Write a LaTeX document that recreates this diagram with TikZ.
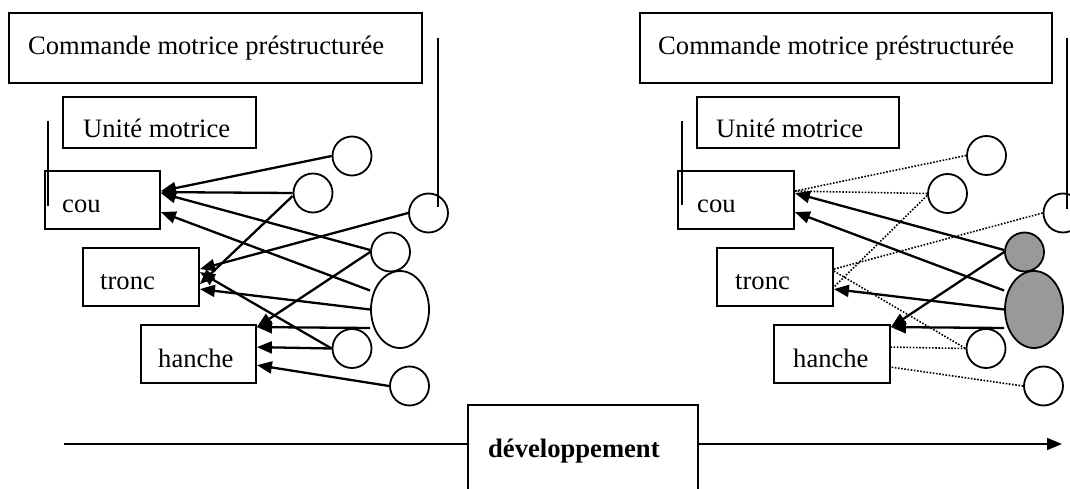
\documentclass[tikz,border=0pt]{standalone}
\usepackage{fontspec}
\setmainfont{Liberation Serif}
\usetikzlibrary{arrows.meta,shapes.geometric,calc}
\definecolor{fillgray}{RGB}{153,153,153}
\begin{document}
\begin{tikzpicture}[x=1pt,y=-1pt,
  box/.style={draw,line width=1.8pt,inner sep=0pt,rectangle},
  lbl/.style={inner sep=0pt,anchor=base west,font=\fontsize{26.6}{30}\selectfont},
  circ/.style={draw,circle,line width=1.8pt,minimum size=39pt,inner sep=0pt},
  ell/.style={draw,ellipse,line width=1.8pt,minimum width=58pt,minimum height=77pt,inner sep=0pt},
  shaded/.style={fill=fillgray},
  arr/.style={line width=2.3pt,-{Triangle[length=15pt,width=12pt]}},
  dotl/.style={line width=1.6pt,dash pattern=on 1.6pt off 1.6pt},
  vline/.style={line width=1.8pt}]
\useasboundingbox (0,0) rectangle (1070,489);
\fill[white] (0,0) rectangle (1070,489);

% ---------------- left panel ----------------
\node[box,minimum width=413pt,minimum height=70pt] (cmdL) at (215.5,48) {};
\node[lbl] (cmdLt) at (28,55) {Commande motrice préstructurée};
\node[box,minimum width=193pt,minimum height=51pt] (uniL) at (159.5,122.5) {};
\node[lbl] (uniLt) at (83,138) {Unité motrice};
\node[box,minimum width=115pt,minimum height=58pt] (couL) at (102.5,200) {};
\node[lbl] (couLt) at (62,212) {cou};
\node[box,minimum width=116pt,minimum height=58pt] (troL) at (141,277) {};
\node[lbl] (troLt) at (100,289) {tronc};
\node[box,minimum width=115pt,minimum height=58pt] (hanL) at (198.5,354) {};
\node[lbl] (hanLt) at (158,367) {hanche};

\coordinate (vLa1) at (48,121);
\coordinate (vLa2) at (48,206);
\coordinate (vLb1) at (438,38);
\coordinate (vLb2) at (438,207);
\draw[vline] (vLa1) -- (vLa2);
\draw[vline] (vLb1) -- (vLb2);

\node[circ] (A1L) at (352,156) {};
\node[circ] (A2L) at (313,193) {};
\node[circ] (A3L) at (428.5,213) {};
\node[circ] (BL) at (390.5,252) {};
\node[ell] (EL) at (400,309.5) {};
\node[circ] (CL) at (352,348.5) {};
\node[circ] (DL) at (409.5,386) {};

\draw[arr] (A1L.west) -- ($(couL.north east)+(0,21)$);
\draw[arr] (A2L.west) -- ($(couL.north east)+(0,22)$);
\draw[arr] ($(BL.west)+(0,-2)$) -- ($(couL.north east)+(0,23)$);
\draw[arr] ($(EL.west)+(0,-19)$) -- ($(couL.north east)+(0,42)$);
\draw[arr] ($(A2L.west)+(0,3)$) -- ($(troL.north east)+(0,37)$);
\draw[arr] (A3L.west) -- ($(troL.north east)+(0,22)$);
\draw[arr] (EL.west) -- ($(troL.north east)+(0,42)$);
\draw[arr] (CL.west) -- ($(troL.north east)+(0,25)$);
\draw[arr] (BL.west) -- ($(hanL.north east)+(0,3)$);
\draw[arr] ($(EL.west)+(0,18.5)$) -- ($(hanL.north east)+(0,3)$);
\draw[arr] (CL.west) -- ($(hanL.north east)+(0,23)$);
\draw[arr] (DL.west) -- ($(hanL.north east)+(0,41)$);

% ---------------- right panel ----------------
\node[box,minimum width=412pt,minimum height=70pt] (cmdR) at (846,48) {};
\node[lbl] (cmdRt) at (658,55) {Commande motrice préstructurée};
\node[box,minimum width=202pt,minimum height=51pt] (uniR) at (798,122.5) {};
\node[lbl] (uniRt) at (716,138) {Unité motrice};
\node[box,minimum width=116pt,minimum height=58pt] (couR) at (736,200) {};
\node[lbl] (couRt) at (697,212) {cou};
\node[box,minimum width=116pt,minimum height=58pt] (troR) at (775,277) {};
\node[lbl] (troRt) at (735,289) {tronc};
\node[box,minimum width=116pt,minimum height=58pt] (hanR) at (832,354) {};
\node[lbl] (hanRt) at (793,367) {hanche};

\coordinate (vRa1) at (682,121);
\coordinate (vRa2) at (682,205);
\coordinate (vRb1) at (1067,38);
\coordinate (vRb2) at (1067,209);
\draw[vline] (vRa1) -- (vRa2);

\node[circ] (A1R) at (986.5,155.5) {};
\node[circ] (A2R) at (947.5,193.5) {};
\node[circ] (A3R) at (1063,213) {};
\node[circ,shaded] (BR) at (1024.5,252) {};
\node[ell,shaded] (ER) at (1034,309.5) {};
\node[circ] (CR) at (986,348.5) {};
\node[circ] (DR) at (1043.5,386) {};
\draw[vline] (vRb1) -- (vRb2);

\draw[dotl] (A1R.west) -- ($(couR.north east)+(0,21)$);
\draw[dotl] (A2R.west) -- ($(couR.north east)+(0,21)$);
\draw[dotl] ($(A2R.west)+(0,2)$) -- ($(troR.north east)+(0,40)$);
\draw[dotl] (A3R.west) -- ($(troR.north east)+(0,22)$);
\draw[dotl] ($(troR.north east)+(0,24)$) -- (CR.west);
\draw[dotl] (CR.west) -- ($(hanR.north east)+(0,23)$);
\draw[dotl] (DR.west) -- ($(hanR.north east)+(0,43)$);

\draw[arr] ($(BR.west)+(0,-2)$) -- ($(couR.north east)+(0,23)$);
\draw[arr] ($(ER.west)+(0,-19)$) -- ($(couR.north east)+(0,42)$);
\draw[arr] (ER.west) -- ($(troR.north east)+(0,42)$);
\draw[arr] (BR.west) -- ($(hanR.north east)+(0,3)$);
\draw[arr] ($(ER.west)+(0,18.5)$) -- ($(hanR.north east)+(0,3)$);

% ---------------- development axis ----------------
\node[box,minimum width=230pt,minimum height=100pt] (dev) at (583,455) {};
\node[lbl] (devt) at (488,457) {\textbf{développement}};
\coordinate (axStart) at (64,444);
\coordinate (axEnd) at (1062,444);
\draw[line width=1.8pt] (axStart) -- (axStart -| dev.west);
\draw[line width=1.8pt,-{Triangle[length=15pt,width=12pt]}] (axEnd -| dev.east) -- (axEnd);
\end{tikzpicture}
\end{document}
